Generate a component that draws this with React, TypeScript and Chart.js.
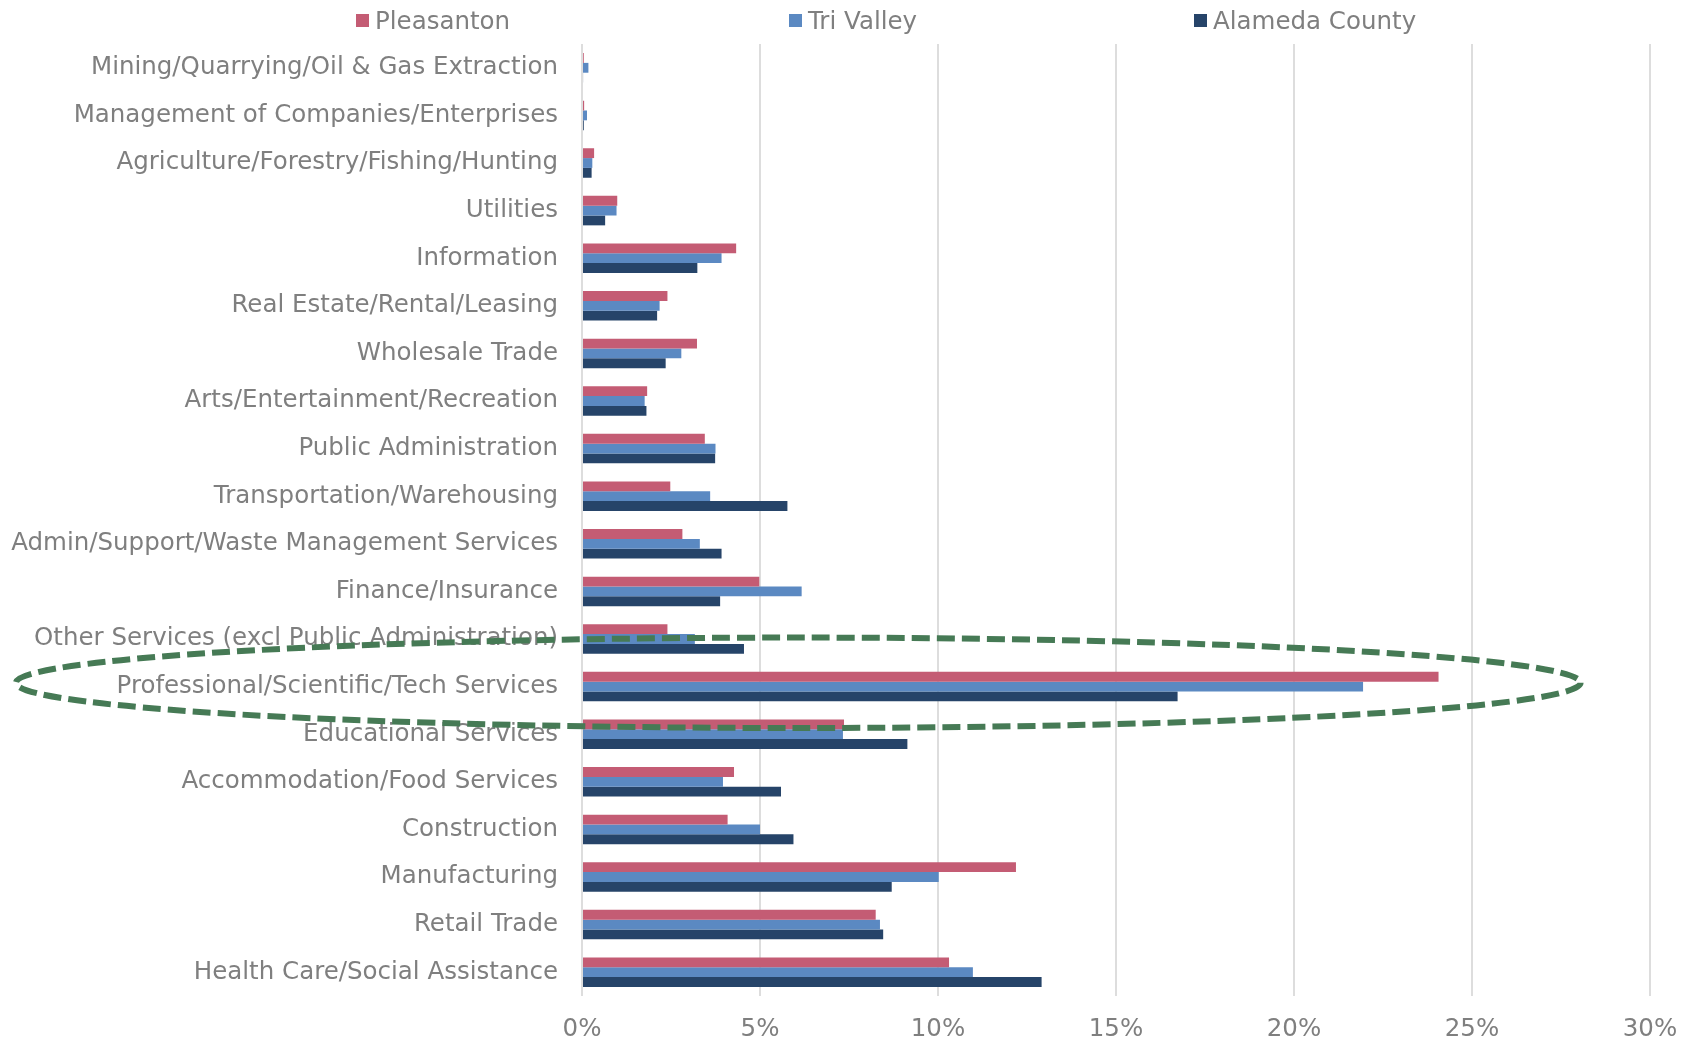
import React, { useEffect, useRef } from "react";
import { Chart, registerables } from "chart.js";

Chart.register(...registerables);

const categories = [
  "Mining/Quarrying/Oil & Gas Extraction",
  "Management of Companies/Enterprises",
  "Agriculture/Forestry/Fishing/Hunting",
  "Utilities",
  "Information",
  "Real Estate/Rental/Leasing",
  "Wholesale Trade",
  "Arts/Entertainment/Recreation",
  "Public Administration",
  "Transportation/Warehousing",
  "Admin/Support/Waste Management Services",
  "Finance/Insurance",
  "Other Services (excl Public Administration)",
  "Professional/Scientific/Tech Services",
  "Educational Services",
  "Accommodation/Food Services",
  "Construction",
  "Manufacturing",
  "Retail Trade",
  "Health Care/Social Assistance",
];

const pleasanton = [0.05, 0.06, 0.34, 0.99, 4.33, 2.4, 3.23, 1.83, 3.45, 2.48, 2.82, 4.98, 2.4, 24.06, 7.36, 4.27, 4.09, 12.19, 8.25, 10.31];
const triValley = [0.18, 0.14, 0.29, 0.97, 3.92, 2.18, 2.79, 1.76, 3.75, 3.6, 3.31, 6.17, 3.17, 21.94, 7.33, 3.96, 5.0, 10.02, 8.37, 10.98];
const alamedaCounty = [0.03, 0.05, 0.27, 0.65, 3.24, 2.11, 2.35, 1.81, 3.74, 5.77, 3.92, 3.88, 4.55, 16.73, 9.14, 5.59, 5.94, 8.7, 8.46, 12.91];

const seriesNames = ["Pleasanton", "Tri Valley", "Alameda County"];
const seriesColors = ["#C45C74", "#5B89C2", "#264469"];
const xTicks = [0, 5, 10, 15, 20, 25, 30];

// highlight ellipse around the Professional/Scientific/Tech Services category
const highlightCategory = "Professional/Scientific/Tech Services";
const highlightLeftValue = -15.9;
const highlightRightValue = 28.05;

const FONT = "'DejaVu Sans', sans-serif";
const FONT_SIZE = 24.5;
const TEXT_COLOR = "#7F7F7F";

const ellipsePlugin = {
  id: "highlightEllipse",
  afterDraw(chart: any) {
    const { ctx, scales } = chart;
    const x = scales.x;
    const y = scales.y;
    const idx = categories.indexOf(highlightCategory);
    const band = y.getPixelForValue(1) - y.getPixelForValue(0);
    const cy = y.getPixelForValue(idx) - band * 0.08;
    const left = x.getPixelForValue(highlightLeftValue);
    const right = x.getPixelForValue(highlightRightValue);
    const cx = (left + right) / 2;
    const rx = (right - left) / 2;
    const ry = band * 0.95;
    ctx.save();
    ctx.beginPath();
    ctx.ellipse(cx, cy, rx, ry, 0, 0, Math.PI * 2);
    ctx.strokeStyle = "#467A55";
    ctx.lineWidth = 6;
    ctx.setLineDash([18, 7]);
    ctx.stroke();
    ctx.restore();
  },
};

export default function App() {
  const canvasRef = useRef<HTMLCanvasElement | null>(null);

  useEffect(() => {
    if (!canvasRef.current) return;
    const data = [pleasanton, triValley, alamedaCounty];
    const chart = new Chart(canvasRef.current, {
      type: "bar",
      data: {
        labels: categories,
        datasets: seriesNames.map((name, i) => ({
          label: name,
          data: data[i],
          backgroundColor: seriesColors[i],
          borderWidth: 0,
          barPercentage: 1,
          categoryPercentage: 0.62,
        })),
      },
      options: {
        indexAxis: "y",
        responsive: false,
        animation: false,
        layout: { padding: { top: 44, right: 40, left: 0, bottom: 0 } },
        plugins: {
          legend: { display: false },
          tooltip: { enabled: false },
        },
        scales: {
          x: {
            min: 0,
            max: 30,
            afterBuildTicks: (scale: any) => {
              scale.ticks = xTicks.map((v) => ({ value: v }));
            },
            afterFit: (scale: any) => {
              scale.height = 46;
              scale.paddingLeft = 0;
              scale.paddingRight = 0;
            },
            grid: { color: "#DDDDDD", lineWidth: 2, drawTicks: false },
            border: { display: false },
            ticks: {
              padding: 19,
              color: TEXT_COLOR,
              font: { family: FONT, size: FONT_SIZE },
              callback: (v: any) => v + "%",
            },
          },
          y: {
            afterFit: (scale: any) => {
              scale.width = 582;
            },
            grid: { display: false, drawTicks: false },
            border: { display: false },
            ticks: {
              padding: 24,
              color: TEXT_COLOR,
              font: { family: FONT, size: FONT_SIZE },
              autoSkip: false,
            },
          },
        },
      },
      plugins: [ellipsePlugin],
    });
    return () => chart.destroy();
  }, []);

  const legendLefts = [356, 789, 1194];

  return (
    <div
      style={{
        position: "fixed",
        left: 0,
        top: 0,
        width: 1690,
        height: 1042,
        background: "#fff",
        overflow: "hidden",
      }}
    >
      <canvas ref={canvasRef} width={1690} height={1042} style={{ display: "block" }} />
      {seriesNames.map((name, i) => (
        <div
          key={name}
          style={{
            position: "absolute",
            left: legendLefts[i],
            top: 5,
            height: 30,
            display: "flex",
            alignItems: "center",
            fontFamily: FONT,
            fontSize: FONT_SIZE,
            color: TEXT_COLOR,
            whiteSpace: "nowrap",
          }}
        >
          <span
            style={{
              display: "inline-block",
              width: 13,
              height: 13,
              background: seriesColors[i],
              marginRight: 6,
            }}
          />
          <span>{name}</span>
        </div>
      ))}
    </div>
  );
}
